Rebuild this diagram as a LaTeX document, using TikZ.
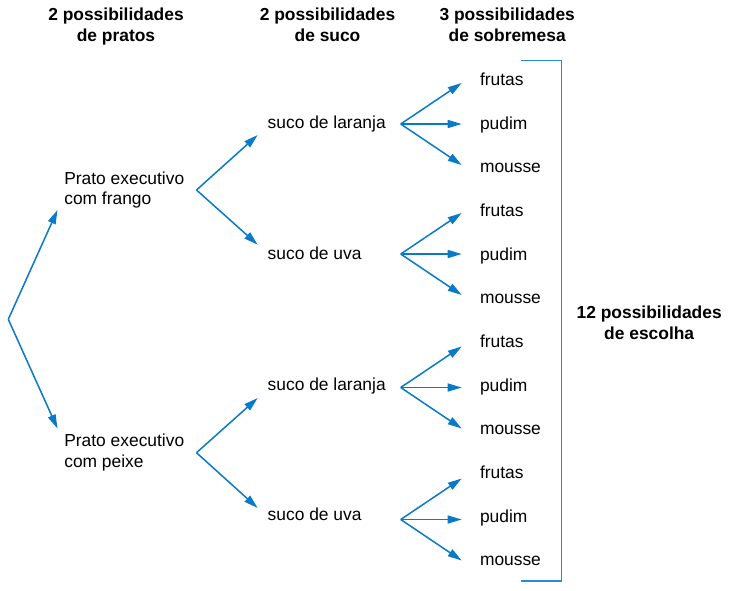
\documentclass[tikz,border=0pt]{standalone}
\usepackage{fontspec}
\setmainfont{Liberation Sans}
\usetikzlibrary{arrows.meta}
\definecolor{arrowblue}{RGB}{8,122,200}
\definecolor{bracketblue}{RGB}{40,140,212}
\begin{document}
\begin{tikzpicture}[x=1pt,y=-1pt,
  every node/.style={inner sep=0pt,outer sep=0pt,font=\fontsize{17.4}{20.5}\selectfont},
  head/.style={align=center,font=\fontsize{17.4}{20.8}\selectfont\bfseries},
  item/.style={anchor=base west},
  dish/.style={anchor=west,align=left},
  conn/.style={draw=arrowblue,line width=1.5pt,-{Triangle[length=14pt,width=8pt]}}]
\useasboundingbox (0,0) rectangle (755,590);
% headers
\node[head] (h1) at (116,26.8) {2 possibilidades\\de pratos\vphantom{p}};
\node[head] (h2) at (327.5,26.8) {2 possibilidades\\de suco\vphantom{p}};
\node[head] (h3) at (507.2,26.8) {3 possibilidades\\de sobremesa\vphantom{p}};
\node[head] (h4) at (649.2,324.8) {12 possibilidades\\de escolha\vphantom{p}};
% root
\coordinate (root) at (8.3,319.3);
\coordinate (tA) at (57.5,210);
\coordinate (tB) at (57.5,428.5);
\draw[conn] (root) -- (tA);
\draw[conn] (root) -- (tB);
% dishes
\node[dish] (pA) at (64.3,189.9) {Prato executivo\\com frango};
\node[dish] (pB) at (64.3,452.3) {Prato executivo\\com peixe\vphantom{g}};
\coordinate (bA) at (196.5,190);
\coordinate (bB) at (196.5,452.7);
\coordinate (tA1) at (257.7,135);
\coordinate (tA2) at (257.7,244.7);
\coordinate (tB1) at (257.7,398);
\coordinate (tB2) at (257.7,508);
\draw[conn] (bA) -- (tA1);
\draw[conn] (bA) -- (tA2);
\draw[conn] (bB) -- (tB1);
\draw[conn] (bB) -- (tB2);
% juices
\node[item] (s1) at (267.7,128.7) {suco de laranja};
\node[item] (s2) at (267.7,259) {suco de uva};
\node[item] (s3) at (267.7,390.7) {suco de laranja};
\node[item] (s4) at (267.7,520.7) {suco de uva};
% desserts
\foreach \g/\by/\fb in {1/124/85, 2/254/216, 3/387.5/347, 4/519.5/478.3}{
  \coordinate (d\g) at (400.7,\by);
  \coordinate (d\g a) at (461.7,\by-41);
  \coordinate (d\g b) at (461.7,\by);
  \coordinate (d\g c) at (461.7,\by+41);
  \draw[conn] (d\g) -- (d\g a);
  \draw[conn] (d\g) -- (d\g b);
  \draw[conn] (d\g) -- (d\g c);
  \node[item] (f\g) at (480,\fb) {frutas};
  \node[item] (p\g) at (480,\fb+44) {pudim};
  \node[item] (m\g) at (480,\fb+87) {mousse};
}
% bracket
\coordinate (k1) at (521,60.5);
\coordinate (k2) at (561.7,60.5);
\coordinate (k3) at (561.7,581);
\coordinate (k4) at (521,581);
\draw[bracketblue,line width=1.4pt] (k1) -- (k2) -- (k3) -- (k4);
\end{tikzpicture}
\end{document}
